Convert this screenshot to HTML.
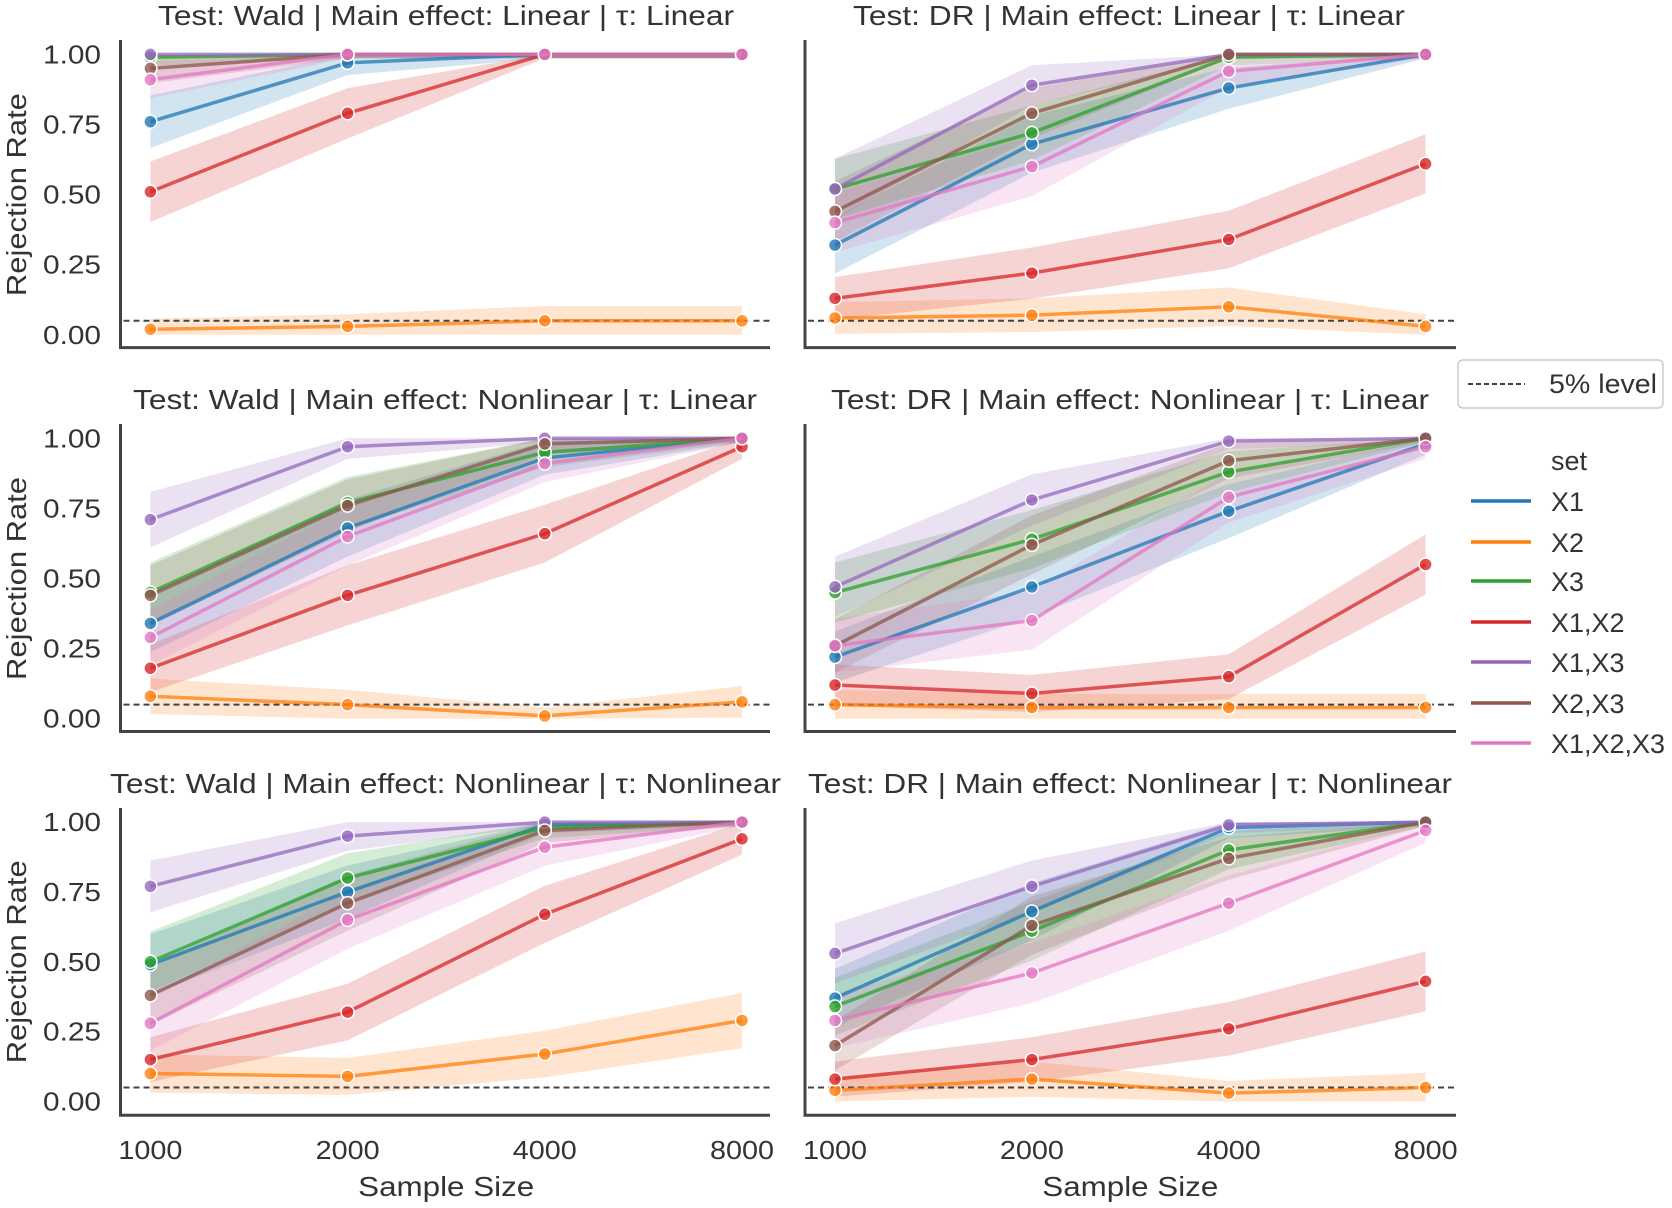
<!DOCTYPE html>
<html><head><meta charset="utf-8"><style>
html,body{margin:0;padding:0;background:#fff;}
svg{display:block;font-family:"Liberation Sans",Arial,sans-serif;}
</style></head><body>
<svg id="chart" width="1672" height="1208" viewBox="0 0 1672 1208" xmlns="http://www.w3.org/2000/svg"></svg>
<script>
const sampleSizes = [1000, 2000, 4000, 8000];
const seriesNames = ["X1","X2","X3","X1,X2","X1,X3","X2,X3","X1,X2,X3"];
const seriesColors = ["#1f77b4","#ff7f0e","#2ca02c","#d62728","#9467bd","#8c564b","#e377c2"];
const yTicks = [0, 0.25, 0.5, 0.75, 1.0];
const yTickLabels = ["0.00","0.25","0.50","0.75","1.00"];
const xTickLabels = ["1000","2000","4000","8000"];
const refLevel = 0.05;
const panelTitles = [
 "Test: Wald | Main effect: Linear | \u03c4: Linear",
 "Test: DR | Main effect: Linear | \u03c4: Linear",
 "Test: Wald | Main effect: Nonlinear | \u03c4: Linear",
 "Test: DR | Main effect: Nonlinear | \u03c4: Linear",
 "Test: Wald | Main effect: Nonlinear | \u03c4: Nonlinear",
 "Test: DR | Main effect: Nonlinear | \u03c4: Nonlinear"
];
const p1 = [[.76,.97,1,1],[.02,.03,.05,.05],[.99,1,1,1],[.51,.79,1,1],[1,1,1,1],[.95,1,1,1],[.91,1,1,1]];
const p2 = [[.32,.68,.88,1],[.06,.07,.10,.03],[.52,.72,.99,1],[.13,.22,.34,.61],[.52,.89,1,1],[.44,.79,1,1],[.40,.60,.94,1]];
const p3 = [[.34,.68,.93,1],[.08,.05,.01,.06],[.45,.77,.95,1],[.18,.44,.66,.97],[.71,.97,1,1],[.44,.76,.98,1],[.29,.65,.91,1]];
const p4 = [[.22,.47,.74,.98],[.05,.04,.04,.04],[.45,.64,.88,1],[.12,.09,.15,.55],[.47,.78,.99,1],[.26,.62,.92,1],[.26,.35,.79,.97]];
const p5 = [[.49,.75,.99,1],[.10,.09,.17,.29],[.50,.80,.98,1],[.15,.32,.67,.94],[.77,.95,1,1],[.38,.71,.97,1],[.28,.65,.91,1]];
const p6 = [[.37,.68,.98,1],[.04,.08,.03,.05],[.34,.61,.90,1],[.08,.15,.26,.43],[.53,.77,.99,1],[.20,.63,.87,1],[.29,.46,.71,.97]];
const panelData = [p1,p2,p3,p4,p5,p6];

const NS="http://www.w3.org/2000/svg";
const svg=document.getElementById('chart');
function mk(tag,attrs,parent){const e=document.createElementNS(NS,tag);for(const k in attrs)e.setAttribute(k,attrs[k]);(parent||svg).appendChild(e);return e;}

const cols=[{axis:120.5,x0:150.4,x1:742,right:770},{axis:805,x0:835,x1:1425.6,right:1456}];
const rows=[{top:40,y1:54.4,y0:334.8,bottom:347.6},{top:424,y1:438.3,y0:718.7,bottom:731.5},{top:808,y1:822.1,y0:1101.5,bottom:1115.3}];
const titleSpans=[[158,734],[853,1405],[133,757],[831,1429],[110,781],[808,1452]];

panelData.forEach((data,pi)=>{
  const c=cols[pi%2], r=rows[Math.floor(pi/2)];
  const g=mk('g',{});
  
  
  const xs=i=>c.x0+(Math.log2(sampleSizes[i]/sampleSizes[0])/Math.log2(sampleSizes[3]/sampleSizes[0]))*(c.x1-c.x0);
  const ys=v=>r.y0+(r.y1-r.y0)*v;
  const ts=titleSpans[pi];
  const t=mk('text',{x:(ts[0]+ts[1])/2,y:r.top-15,'text-anchor':'middle','font-size':28,fill:'#333',textLength:ts[1]-ts[0],lengthAdjust:'spacingAndGlyphs'},g);
  t.textContent=panelTitles[pi];
  
  
  data.forEach((vals,si)=>{
    let up=[],dn=[];
    vals.forEach((v,i)=>{const h=1.96*Math.sqrt(Math.max(v*(1-v),0.0004)/100)+0.01;up.push(xs(i)+','+ys(Math.min(1,v+h)));dn.unshift(xs(i)+','+ys(Math.max(0,v-h)));});
    const b=mk('polygon',{points:up.concat(dn).join(' '),fill:seriesColors[si],'fill-opacity':0.2,stroke:'none'},g);
    
    
  });
  const rl=mk('line',{x1:c.axis+3,x2:c.right,y1:ys(refLevel),y2:ys(refLevel),stroke:'#444','stroke-width':2,'stroke-dasharray':'6,4'},g);
  
  
  data.forEach((vals,si)=>{
    const pts=vals.map((v,i)=>xs(i)+','+ys(v)).join(' ');
    const l=mk('polyline',{points:pts,fill:'none',stroke:seriesColors[si],'stroke-opacity':0.75,'stroke-width':3.5},g);
    
    
    vals.forEach((v,i)=>{
      const m=mk('circle',{cx:xs(i),cy:ys(v),r:6.5,fill:seriesColors[si],'fill-opacity':0.8,stroke:'#fff','stroke-width':1.5},g);
      
      
    });
  });
  const ya=mk('line',{x1:c.axis,x2:c.axis,y1:r.top,y2:r.bottom,stroke:'#444','stroke-width':3},g);
  
  
  const xa=mk('line',{x1:c.axis-1.5,x2:c.right,y1:r.bottom,y2:r.bottom,stroke:'#444','stroke-width':3},g);
  
  
  if(pi%2===0){
    yTicks.forEach((v,i)=>{
      const tl=mk('text',{x:101,y:ys(v)+9,'text-anchor':'end','font-size':26,fill:'#333',textLength:58,lengthAdjust:'spacingAndGlyphs'},g);
      tl.textContent=yTickLabels[i];
      
      
    });
    const yl=mk('text',{x:0,y:0,'text-anchor':'middle','font-size':28,fill:'#333',transform:`translate(26,${(r.y0+r.y1)/2}) rotate(-90)`,textLength:203,lengthAdjust:'spacingAndGlyphs'},g);
    yl.textContent='Rejection Rate';
    
    
  }
  if(pi>=4){
    xTickLabels.forEach((s,i)=>{
      const tl=mk('text',{x:xs(i),y:1159,'text-anchor':'middle','font-size':26,fill:'#333',textLength:64,lengthAdjust:'spacingAndGlyphs'},g);
      tl.textContent=s;
      
      
    });
    const xl=mk('text',{x:(c.x0+c.x1)/2,y:1196,'text-anchor':'middle','font-size':28,fill:'#333',textLength:176,lengthAdjust:'spacingAndGlyphs'},g);
    xl.textContent='Sample Size';
    
    
  }
});

const lg=mk('g',{});


const box=mk('rect',{x:1458,y:360,width:205,height:48,rx:5,fill:'#fff',stroke:'#ccc','stroke-width':1.5},lg);


const dl=mk('line',{x1:1468,x2:1525,y1:384,y2:384,stroke:'#444','stroke-width':2,'stroke-dasharray':'5,3'},lg);


const dt=mk('text',{x:1549,y:393,'font-size':27,fill:'#333',textLength:108,lengthAdjust:'spacingAndGlyphs'},lg);
dt.textContent='5% level';


const st=mk('text',{x:1551,y:470,'font-size':27,fill:'#333'},lg);
st.textContent='set';


const legY=[501,542,581,622,662,703,743];
seriesNames.forEach((n,i)=>{
  const ll=mk('line',{x1:1471,x2:1531,y1:legY[i],y2:legY[i],stroke:seriesColors[i],'stroke-width':3.5},lg);
  
  
  const lt=mk('text',{x:1551,y:legY[i]+10,'font-size':27,fill:'#333'},lg);
  lt.textContent=n;
  
  
});
</script>
</body></html>
